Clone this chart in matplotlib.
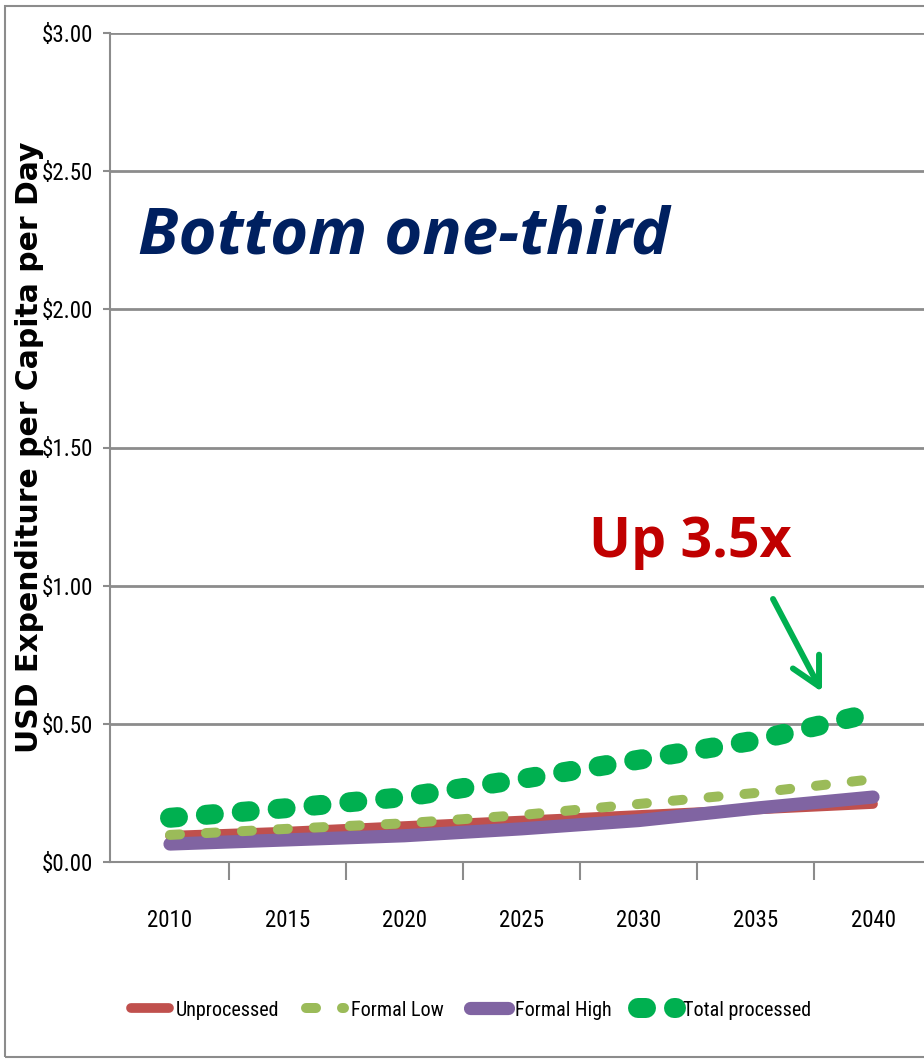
import matplotlib
matplotlib.use("Agg")
import matplotlib.pyplot as plt
from matplotlib import font_manager as fm
from matplotlib.patches import Rectangle, FancyArrowPatch
from matplotlib.font_manager import FontProperties

# pick a condensed font if one is installed
names = {f.name for f in fm.fontManager.ttflist}
cond = None
for cand in ["Liberation Sans Narrow", "Roboto Condensed", "Open Sans Condensed", "DejaVu Sans Condensed"]:
    if cand in names:
        cond = dict(family=cand)
        break
if cond is None:
    for f in fm.fontManager.ttflist:
        st = f.stretch
        if (isinstance(st, str) and "condensed" in st) or (isinstance(st, int) and st < 500):
            if f.weight in (400, "normal", "regular"):
                cond = dict(family=f.name, stretch=st)
                break
if cond is None:
    cond = dict(family="Liberation Sans")
    SCALE = 0.78
else:
    SCALE = 1.0

years = [2010, 2015, 2020, 2025, 2030, 2035, 2040]
unprocessed = [0.095, 0.11, 0.13, 0.15, 0.17, 0.19, 0.21]
formal_low = [0.098, 0.12, 0.14, 0.17, 0.21, 0.25, 0.30]
formal_high = [0.065, 0.08, 0.095, 0.12, 0.15, 0.195, 0.235]
total_processed = [0.16, 0.195, 0.235, 0.30, 0.37, 0.44, 0.54]
y_ticks = [0.0, 0.5, 1.0, 1.5, 2.0, 2.5, 3.0]
y_labels = ["$0.00", "$0.50", "$1.00", "$1.50", "$2.00", "$2.50", "$3.00"]

W, H = 924, 1060
fig = plt.figure(figsize=(W / 100, H / 100), dpi=100)
fig.patch.set_facecolor("white")

fig.patches.append(Rectangle((5 / W, 3 / H), 1.2, 1 - 9 / H, transform=fig.transFigure,
                             fill=False, edgecolor="#8c8c8c", linewidth=1.5))

ax_l, ax_r, ax_t, ax_b = 110, 924, 33, 862
ax = fig.add_axes([ax_l / W, 1 - ax_b / H, (ax_r - ax_l) / W, (ax_b - ax_t) / H])
ppy = (873 - 170) / 30.0
ax.set_xlim(2010 - (170 - ax_l) / ppy, 2040 + (ax_r - 873) / ppy)
ax.set_ylim(0, 3.0)

tick_fp = FontProperties(size=16.5 * SCALE, **cond)
leg_fp = FontProperties(size=14.5 * SCALE, **cond)

grid_c = "#8c8c8c"
for s in ["top", "right"]:
    ax.spines[s].set_visible(False)
for s in ["left", "bottom"]:
    ax.spines[s].set_color(grid_c)
    ax.spines[s].set_linewidth(1.5)
ax.set_yticks(y_ticks)
ax.set_yticklabels(y_labels, fontproperties=tick_fp)
ax.yaxis.grid(True, color=grid_c, linewidth=2)
ax.tick_params(axis="y", length=5, color=grid_c, width=1.5, pad=7)

ax.set_xticks([2012.5, 2017.5, 2022.5, 2027.5, 2032.5, 2037.5])
ax.set_xticklabels([])
ax.tick_params(axis="x", which="major", length=13, color=grid_c, width=1.5)
ax.set_xticks(years, minor=True)
ax.set_xticklabels([str(y) for y in years], minor=True, fontproperties=tick_fp)
ax.tick_params(axis="x", which="minor", length=0, pad=34)

ax.plot(years, unprocessed, color="#C0504D", linewidth=7, solid_capstyle="round", label="Unprocessed", zorder=3)
ax.plot(years, formal_high, color="#8064A2", linewidth=9.5, solid_capstyle="round", label="Formal High", zorder=4)
ax.plot(years, formal_low, color="#9BBB59", linewidth=7.2, linestyle=(0, (1.0, 2.6)),
        dash_capstyle="round", label="Formal Low", zorder=5)
ax.plot(years, total_processed, color="#00B050", linewidth=14.4, linestyle=(0, (0.4, 1.4)),
        dash_capstyle="round", label="Total processed", zorder=6)

ax.set_ylabel("USD Expenditure per Capita per Day", fontfamily="DejaVu Sans", fontweight="bold",
              fontsize=21.5)
ax.yaxis.set_label_coords(-(110 - 44) / (ax_r - ax_l), (862 - 447) / (862 - 33))

fig.text(138 / W, 1 - 237 / H, "Bottom one-third", fontfamily="Open Sans", fontweight="bold",
         fontstyle="italic", fontsize=47, color="#002060", va="center", ha="left")
fig.text(589 / W, 1 - 542 / H, "Up 3.5x", fontfamily="Open Sans", fontweight="bold",
         fontsize=40, color="#C00000", va="center", ha="left")
arrow = FancyArrowPatch((773 / W, 1 - 599 / H), (822 / W, 1 - 692 / H), transform=fig.transFigure,
                        arrowstyle="->,head_length=0.72,head_width=0.38", color="#00B050", linewidth=4.3,
                        mutation_scale=28, capstyle="round", joinstyle="round", shrinkA=0, shrinkB=0)
fig.patches.append(arrow)

h, l = ax.get_legend_handles_labels()
order = [0, 2, 1, 3]
fig.legend([h[i] for i in order], [l[i] for i in order], loc="center", ncol=4,
           bbox_to_anchor=(471 / W, 1 - 1010 / H), frameon=False,
           prop=leg_fp, handlelength=1.9, handletextpad=0.35, columnspacing=1.3)

fig.savefig("out.png", dpi=100, facecolor="white")
